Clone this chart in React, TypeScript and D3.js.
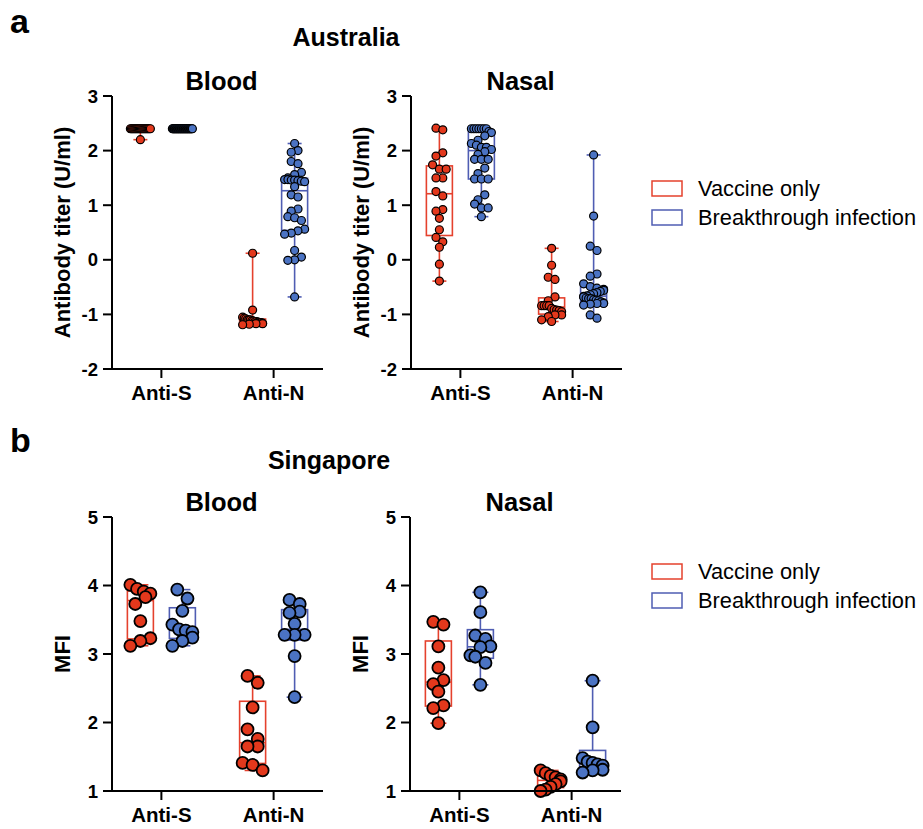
import React from 'react';
import * as d3 from 'd3';

const FONT = "Arial, 'Liberation Sans', Helvetica, sans-serif";

const categories = ['Anti-S', 'Anti-N'];
const groups = ['Vaccine only', 'Breakthrough infection'];
const strokeColors = ['#E5412D', '#4F5DB3'];
const fillColors = ['#E3381C', '#4B73C3'];

const auTicks = [-2, -1, 0, 1, 2, 3];
const sgTicks = [1, 2, 3, 4, 5];

// Australia, blood
const auBloodVaccineS = [2.4, 2.4, 2.4, 2.4, 2.4, 2.4, 2.4, 2.4, 2.4, 2.4, 2.4, 2.4, 2.4, 2.4, 2.4, 2.4, 2.4, 2.4, 2.4, 2.2];
const auBloodBreakS = [2.4, 2.4, 2.4, 2.4, 2.4, 2.4, 2.4, 2.4, 2.4, 2.4, 2.4, 2.4, 2.4, 2.4, 2.4, 2.4,
  2.4, 2.4, 2.4, 2.4, 2.4, 2.4, 2.4, 2.4, 2.4, 2.4, 2.4, 2.4, 2.4, 2.4, 2.4, 2.4];
const auBloodVaccineN = [0.12, -0.92, -1.05, -1.07, -1.08, -1.1, -1.1, -1.1, -1.12, -1.12, -1.13, -1.13,
  -1.14, -1.15, -1.15, -1.16, -1.17, -1.17, -1.18, -1.19];
const auBloodBreakN = [2.13, 2.0, 1.97, 1.8, 1.76, 1.6, 1.56, 1.5, 1.47, 1.47, 1.46, 1.46, 1.45, 1.44, 1.43,
  1.34, 1.19, 1.15, 0.93, 0.89, 0.79, 0.77, 0.72, 0.56, 0.53, 0.49, 0.47, 0.17, 0.05, 0.0, -0.01, -0.68];

// Australia, nasal
const auNasalVaccineS = [2.41, 2.38, 1.96, 1.9, 1.74, 1.66, 1.66, 1.5, 1.5, 1.25, 1.17, 0.92, 0.89, 0.76,
  0.55, 0.41, 0.33, 0.23, -0.08, -0.39];
const auNasalBreakS = [2.4, 2.4, 2.4, 2.4, 2.4, 2.4, 2.4, 2.35, 2.33, 2.27, 2.19, 2.13, 2.1, 2.06, 2.06, 2.02,
  1.98, 1.93, 1.84, 1.84, 1.84, 1.68, 1.58, 1.48, 1.48, 1.48, 1.19, 1.1, 1.02, 0.95, 0.95, 0.79];
const auNasalVaccineN = [0.21, -0.1, -0.32, -0.36, -0.68, -0.75, -0.84, -0.84, -0.84, -0.84, -0.89, -0.91,
  -0.92, -0.93, -0.95, -1.01, -1.01, -1.04, -1.1, -1.13];
const auNasalBreakN = [1.92, 0.8, 0.25, 0.17, -0.26, -0.3, -0.44, -0.49, -0.52, -0.54, -0.56, -0.58, -0.6,
  -0.62, -0.64, -0.66, -0.67, -0.68, -0.7, -0.71, -0.71, -0.73, -0.74, -0.75, -0.77, -0.79, -0.8, -0.8,
  -0.81, -0.83, -1.01, -1.07];

// Singapore, blood
const sgBloodVaccineS = [4.01, 3.95, 3.91, 3.88, 3.83, 3.73, 3.48, 3.23, 3.19, 3.12];
const sgBloodBreakS = [3.94, 3.81, 3.63, 3.43, 3.36, 3.34, 3.32, 3.24, 3.19, 3.12];
const sgBloodVaccineN = [2.68, 2.58, 2.22, 1.9, 1.76, 1.65, 1.65, 1.41, 1.38, 1.3];
const sgBloodBreakN = [3.79, 3.73, 3.62, 3.6, 3.44, 3.28, 3.28, 3.28, 2.97, 2.37];

// Singapore, nasal
const sgNasalVaccineS = [3.47, 3.43, 3.11, 2.8, 2.62, 2.56, 2.45, 2.25, 2.21, 1.99];
const sgNasalBreakS = [3.9, 3.61, 3.27, 3.22, 3.11, 3.1, 2.98, 2.96, 2.87, 2.55];
const sgNasalVaccineN = [1.3, 1.26, 1.22, 1.2, 1.17, 1.14, 1.1, 1.06, 1.02, 1.0];
const sgNasalBreakN = [2.61, 1.93, 1.48, 1.43, 1.41, 1.39, 1.37, 1.31, 1.3, 1.27];

// Prism-style quartiles: position p*(n+1)
function quantileN1(sorted: number[], p: number) {
  const n = sorted.length;
  let pos = p * (n + 1);
  pos = Math.max(1, Math.min(n, pos));
  const lo = Math.floor(pos);
  const hi = Math.min(n, lo + 1);
  const f = pos - lo;
  return sorted[lo - 1] + f * (sorted[hi - 1] - sorted[lo - 1]);
}

// rows of points spread sideways like a scatter dot plot
function layoutPoints(values: number[], y: d3.ScaleLinear<number, number>, r: number, maxSpread: number) {
  const pts = values.map(v => ({ v, py: y(v) })).sort((a, b) => a.py - b.py);
  const out: { v: number; py: number; dx: number }[] = [];
  let i = 0;
  let row = 0;
  while (i < pts.length) {
    let j = i;
    while (j < pts.length && pts[j].py - pts[i].py < r * 1.6) j++;
    const k = j - i;
    const step = k > 1 ? Math.min(r * 1.7, maxSpread / (k - 1)) : 0;
    const dir = row % 2 === 0 ? 1 : -1; // zigzag between rows
    for (let m = 0; m < k; m++) {
      out.push({ v: pts[i + m].v, py: pts[i + m].py, dx: dir * (m - (k - 1) / 2) * step });
    }
    i = j;
    row++;
  }
  return out;
}

type PanelProps = {
  left: number; top: number; width: number; height: number;
  domain: [number, number]; ticks: number[];
  title: string; ylabel: string;
  series: number[][][]; // [category][group] values
  r: number; spread: number; cap: number;
};

const Panel = ({ left, top, width, height, domain, ticks, title, ylabel, series, r, spread, cap }: PanelProps) => {
  const y = d3.scaleLinear().domain(domain).range([top + height, top]);
  const x = d3.scalePoint<string>().domain(categories).range([left, left + width]).padding(0.44);
  const gx = d3.scalePoint<string>().domain(groups).range([-21, 21]);
  const boxHalf = 13;

  return (
    <g>
      <text x={left + width / 2 + 4} y={top - 6} textAnchor="middle" fontFamily={FONT} fontWeight="bold" fontSize={25.5}>{title}</text>
      <text transform={`translate(${left - 42},${top + height / 2}) rotate(-90)`} textAnchor="middle"
        fontFamily={FONT} fontWeight="bold" fontSize={22}>{ylabel}</text>

      {categories.map((c, ci) => groups.map((g, gi) => {
        const vals = series[ci][gi].slice().sort((a, b) => a - b);
        const cx = (x(c) as number) + (gx(g) as number);
        const q1 = quantileN1(vals, 0.25);
        const med = quantileN1(vals, 0.5);
        const q3 = quantileN1(vals, 0.75);
        const mn = vals[0];
        const mx = vals[vals.length - 1];
        const col = strokeColors[gi];
        const pts = layoutPoints(vals, y, r, spread);
        return (
          <g key={c + g}>
            <line x1={cx} x2={cx} y1={y(mx)} y2={y(q3)} stroke={col} strokeWidth={1.6} />
            <line x1={cx} x2={cx} y1={y(q1)} y2={y(mn)} stroke={col} strokeWidth={1.6} />
            <line x1={cx - cap} x2={cx + cap} y1={y(mx)} y2={y(mx)} stroke={col} strokeWidth={1.6} />
            <line x1={cx - cap} x2={cx + cap} y1={y(mn)} y2={y(mn)} stroke={col} strokeWidth={1.6} />
            <rect x={cx - boxHalf} y={y(q3)} width={boxHalf * 2} height={Math.max(0, y(q1) - y(q3))}
              fill="none" stroke={col} strokeWidth={1.6} />
            <line x1={cx - boxHalf} x2={cx + boxHalf} y1={y(med)} y2={y(med)} stroke={col} strokeWidth={1.6} />
            {pts.map((p, k) => (
              <circle key={k} cx={cx + p.dx} cy={p.py} r={r} fill={fillColors[gi]} stroke="#000"
                strokeWidth={r > 5 ? 1.8 : 1.2} />
            ))}
          </g>
        );
      }))}

      {/* y axis */}
      <line x1={left} x2={left} y1={top} y2={top + height} stroke="#000" strokeWidth={2} />
      {ticks.map(t => (
        <g key={t}>
          <line x1={left - 9} x2={left} y1={y(t)} y2={y(t)} stroke="#000" strokeWidth={2} />
          <text x={left - 14} y={y(t)} dy="0.36em" textAnchor="end" fontFamily={FONT} fontWeight="bold" fontSize={18.5}>{t}</text>
        </g>
      ))}
      {/* x axis */}
      <line x1={left - 1} x2={left + width} y1={top + height} y2={top + height} stroke="#000" strokeWidth={2} />
      {categories.map(c => (
        <g key={c}>
          <line x1={x(c)} x2={x(c)} y1={top + height} y2={top + height + 9} stroke="#000" strokeWidth={2} />
          <text x={x(c)} y={top + height + 31} textAnchor="middle" fontFamily={FONT} fontWeight="bold" fontSize={20.5}>{c}</text>
        </g>
      ))}
    </g>
  );
};

const Legend = ({ left, top }: { left: number; top: number }) => (
  <g>
    {groups.map((g, i) => (
      <g key={g} transform={`translate(${left},${top + i * 29})`}>
        <rect x={0} y={0} width={30} height={15} fill="none" stroke={strokeColors[i]} strokeWidth={1.5} />
        <text x={46} y={15} fontFamily={FONT} fontSize={21.8}>{g}</text>
      </g>
    ))}
  </g>
);

const App = () => {
  const W = 923, H = 829;
  const common = { width: 211, height: 273 };
  return (
    <svg width={W} height={H} style={{ position: 'absolute', left: 0, top: 0, background: '#fff' }}>
      <text x={10} y={33} fontFamily={FONT} fontWeight="bold" fontSize={34}>a</text>
      <text x={346} y={46} textAnchor="middle" fontFamily={FONT} fontWeight="bold" fontSize={25}>Australia</text>
      <Panel left={112} top={96} {...common} domain={[-2, 3]} ticks={auTicks} title="Blood"
        ylabel="Antibody titer (U/ml)" r={4} spread={20} cap={7}
        series={[[auBloodVaccineS, auBloodBreakS], [auBloodVaccineN, auBloodBreakN]]} />
      <Panel left={411} top={96} {...common} domain={[-2, 3]} ticks={auTicks} title="Nasal"
        ylabel="Antibody titer (U/ml)" r={4} spread={20} cap={7}
        series={[[auNasalVaccineS, auNasalBreakS], [auNasalVaccineN, auNasalBreakN]]} />
      <Legend left={652} top={181} />

      <text x={10} y={452} fontFamily={FONT} fontWeight="bold" fontSize={34}>b</text>
      <text x={329} y={469} textAnchor="middle" fontFamily={FONT} fontWeight="bold" fontSize={25}>Singapore</text>
      <Panel left={112} top={517} width={211} height={274} domain={[1, 5]} ticks={sgTicks} title="Blood"
        ylabel="MFI" r={6} spread={20} cap={8}
        series={[[sgBloodVaccineS, sgBloodBreakS], [sgBloodVaccineN, sgBloodBreakN]]} />
      <Panel left={410} top={517} width={211} height={274} domain={[1, 5]} ticks={sgTicks} title="Nasal"
        ylabel="MFI" r={6} spread={20} cap={8}
        series={[[sgNasalVaccineS, sgNasalBreakS], [sgNasalVaccineN, sgNasalBreakN]]} />
      <Legend left={652} top={564} />
    </svg>
  );
};

export default App;
